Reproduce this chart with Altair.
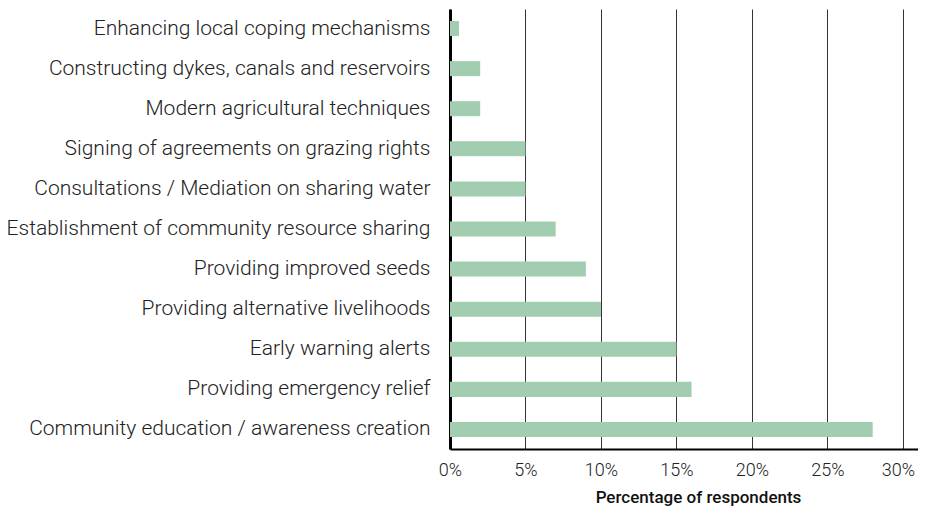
import altair as alt
import pandas as pd

categories = [
    "Enhancing local coping mechanisms",
    "Constructing dykes, canals and reservoirs",
    "Modern agricultural techniques",
    "Signing of agreements on grazing rights",
    "Consultations / Mediation on sharing water",
    "Establishment of community resource sharing",
    "Providing improved seeds",
    "Providing alternative livelihoods",
    "Early warning alerts",
    "Providing emergency relief",
    "Community education / awareness creation",
]
values = [0.6, 2, 2, 5, 5, 7, 9, 10, 15, 16, 28]
tick_values = [0, 5, 10, 15, 20, 25, 30]

df = pd.DataFrame({"cat": categories, "val": values})

FONT = "Roboto"

chart = alt.Chart(df).mark_bar(color="#a2cdb0").encode(
    x=alt.X(
        "val:Q",
        scale=alt.Scale(domain=[0, 31], nice=False),
        axis=alt.Axis(
            values=tick_values,
            labelExpr="datum.value + '%'",
            title="Percentage of respondents",
            titleFont=FONT,
            titleFontWeight=500,
            titleFontSize=17,
            titleColor="#111",
            titleX=248,
            titleY=53,
            titleBaseline="alphabetic",
            titleAlign="center",
            labelFont=FONT,
            labelFontWeight=300,
            labelFontSize=18,
            labelColor="#222",
            labelPadding=12,
            labelFlush=False,
            labelOffset=alt.condition("datum.value == 30", alt.value(-5), alt.value(0)),
            ticks=False,
            grid=True,
            gridColor="#333",
            gridWidth=1,
            domainColor="#000",
            domainWidth=2,
        ),
    ),
    y=alt.Y(
        "cat:N",
        sort=categories,
        scale=alt.Scale(paddingInner=0.625, paddingOuter=0.3),
        axis=alt.Axis(
            title=None,
            labelFont=FONT,
            labelFontWeight=300,
            labelFontSize=21,
            labelColor="#222",
            labelPadding=20,
            labelLimit=0,
            ticks=False,
            grid=False,
            domainColor="#000",
            domainWidth=3,
        ),
    ),
).properties(
    width=468,
    height=440,
    autosize=alt.AutoSizeParams(type="none"),
    padding={"left": 442, "top": 1, "right": 0, "bottom": 58},
).configure_view(stroke=None)

chart.save("out.html", embed_options={"renderer": "svg", "actions": False})
